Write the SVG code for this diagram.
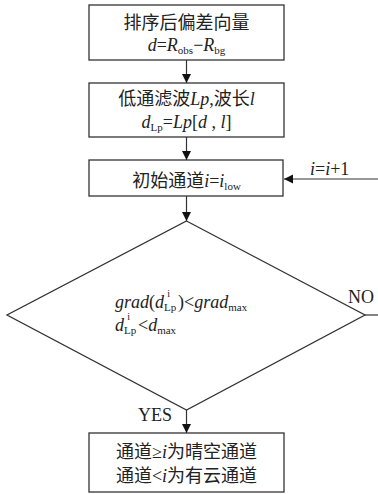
<svg xmlns="http://www.w3.org/2000/svg" width="378" height="494" viewBox="0 0 378 494">
<style>
.box{fill:#fff;stroke:#333;stroke-width:1.3}
.ln{fill:none;stroke:#333;stroke-width:1.2}
text{font-family:"Liberation Serif","Noto Sans CJK SC",serif;font-size:18px;fill:#222}
.c{text-anchor:middle}
.i{font-style:italic}
.s{font-size:11px}
.p{font-size:10px}
</style>
<defs>
<marker id="ah" markerWidth="10" markerHeight="10" refX="9" refY="5" orient="auto" markerUnits="userSpaceOnUse">
<path d="M0,0.5 L9,5 L0,9.5 Z" fill="#111"/>
</marker>
</defs>
<g id="connectors">
<line class="ln" x1="186.5" y1="60" x2="186.5" y2="83" marker-end="url(#ah)"/>
<line class="ln" x1="186.5" y1="137" x2="186.5" y2="160" marker-end="url(#ah)"/>
<line class="ln" x1="186.5" y1="196" x2="186.5" y2="221" marker-end="url(#ah)"/>
<line class="ln" x1="378" y1="179" x2="284" y2="179" marker-end="url(#ah)"/>
<line class="ln" x1="365" y1="315" x2="378" y2="315"/>
<line class="ln" x1="186.5" y1="410" x2="186.5" y2="433" marker-end="url(#ah)"/>
<text x="310" y="175"><tspan class="i">i</tspan>=<tspan class="i">i</tspan>+1</text>
<text x="348" y="303">NO</text>
<text x="138" y="421">YES</text>
</g>
<g id="n1">
<rect class="box" x="89" y="5" width="195" height="55"/>
<text class="c" x="186.5" y="29">排序后偏差向量</text>
<text class="c" x="186.5" y="51"><tspan class="i">d</tspan>=<tspan class="i">R</tspan><tspan class="s" dy="3">obs</tspan><tspan dy="-3">−</tspan><tspan class="i">R</tspan><tspan class="s" dy="3">bg</tspan></text>
</g>
<g id="n2">
<rect class="box" x="89" y="83" width="195" height="54"/>
<text class="c" x="186.5" y="105">低通滤波<tspan class="i">Lp</tspan>,波长<tspan class="i">l</tspan></text>
<text class="c" x="186.5" y="128"><tspan class="i">d</tspan><tspan class="s" dy="3">Lp</tspan><tspan dy="-3">=</tspan><tspan class="i">Lp</tspan>[<tspan class="i">d</tspan> , <tspan class="i">l</tspan>]</text>
</g>
<g id="n3">
<rect class="box" x="89" y="160" width="194" height="36"/>
<text class="c" x="186.5" y="187">初始通道<tspan class="i">i</tspan>=<tspan class="i">i</tspan><tspan class="s" dy="3">low</tspan></text>
</g>
<g id="n4">
<polygon class="box" points="186.5,221 365,315 186.5,410 7,315"/>
<text x="115" y="308"><tspan class="i">grad</tspan>(<tspan class="i">d</tspan><tspan class="s" dy="3">Lp</tspan><tspan class="p" dx="-9" dy="-14">i</tspan><tspan dx="8" dy="11">)&lt;</tspan><tspan class="i">grad</tspan><tspan class="s" dy="3">max</tspan></text>
<text x="115" y="331"><tspan class="i">d</tspan><tspan class="s" dy="3">Lp</tspan><tspan class="p" dx="-9" dy="-14">i</tspan><tspan dx="8" dy="11">&lt;</tspan><tspan class="i">d</tspan><tspan class="s" dy="3">max</tspan></text>
</g>
<g id="n5">
<rect class="box" x="89" y="433" width="195" height="59"/>
<text class="c" x="186.5" y="458">通道≥<tspan class="i">i</tspan>为晴空通道</text>
<text class="c" x="186.5" y="482">通道&lt;<tspan class="i">i</tspan>为有云通道</text>
</g>
</svg>
